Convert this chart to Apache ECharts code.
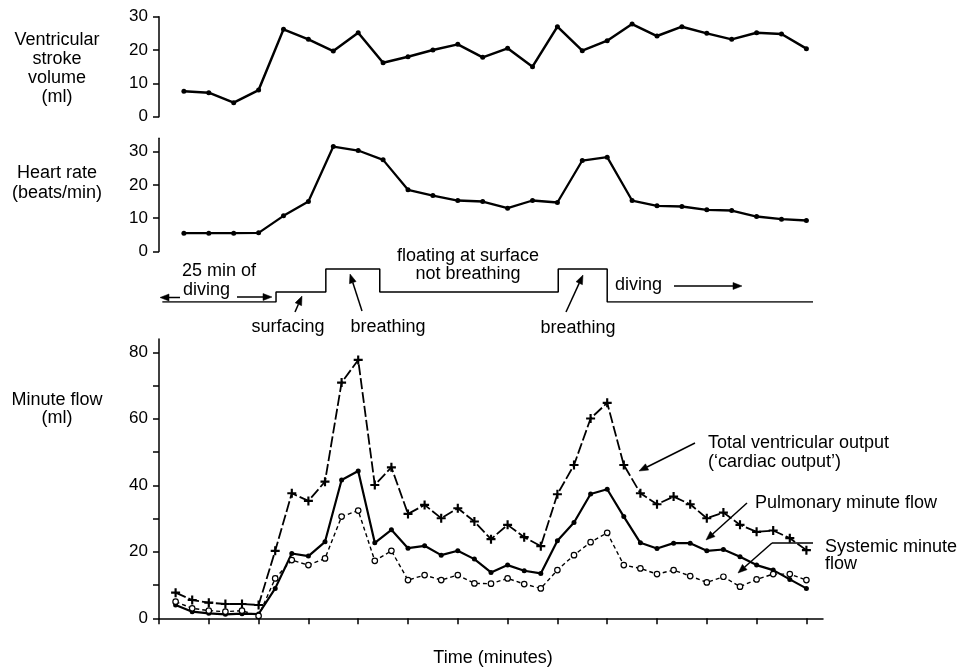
<!DOCTYPE html>
<html>
<head>
<meta charset="utf-8">
<script src="https://cdn.jsdelivr.net/npm/echarts@6/dist/echarts.min.js"></script>
<style>
html,body{margin:0;padding:0;background:#fff;}
#chart{width:962px;height:669px;}
</style>
</head>
<body>
<div id="chart"></div>
<script>
// ---- data ----
var timeTop = [1.5,3,4.5,6,7.5,9,10.5,12,13.5,15,16.5,18,19.5,21,22.5,24,25.5,27,28.5,30,31.5,33,34.5,36,37.5,39];
var strokeVolume = [7.6,7.2,4.2,8.0,26.2,23.2,19.7,25.2,16.2,18.0,20.0,21.7,17.8,20.5,15.0,27.0,19.8,22.8,27.8,24.2,27.0,25.0,23.2,25.2,24.8,20.4];
var heartRate = [5.5,5.5,5.5,5.6,10.7,15.0,31.5,30.3,27.5,18.5,16.8,15.3,15.0,13.0,15.3,14.7,27.3,28.3,15.3,13.7,13.5,12.5,12.3,10.5,9.7,9.3];

var timeFlow = [1,2,3,4,5,6,7,8,9,10,11,12,13,14,15,16,17,18,19,20,21,22,23,24,25,26,27,28,29,30,31,32,33,34,35,36,37,38,39];
var totalOutput = [7.7,5.5,4.7,4.3,4.3,4.0,20.3,37.6,35.3,41.1,70.9,77.7,40.1,45.4,31.4,34.1,30.1,33.1,29.1,23.8,28.1,24.4,21.7,37.3,46.1,60.1,64.8,46.1,37.6,34.3,36.6,34.3,30.1,31.8,28.1,26.0,26.4,24.1,20.5];
var pulmonaryFlow = [4.0,2.0,1.5,1.2,1.4,1.3,9.0,19.5,18.7,23.0,41.6,44.3,22.7,26.6,21.1,21.8,19.0,20.3,17.8,13.8,16.0,14.3,13.5,23.3,28.8,37.4,38.8,30.6,22.7,21.0,22.6,22.6,20.3,20.7,18.5,16.0,14.5,11.7,9.0];
var systemicFlow = [5.0,3.0,2.3,2.0,2.3,0.7,12.0,17.5,16.0,18.0,30.6,32.4,17.3,20.3,11.5,13.0,11.5,13.0,10.5,10.4,12.0,10.3,9.0,14.5,19.0,22.9,25.7,16.0,15.0,13.3,14.5,12.7,10.8,12.5,9.5,11.7,13.3,13.3,11.5];

// behaviour state trace (diving = 0, floating/surfacing = 10, breathing = 33)
var stateTimes = [0.2,7.05,10.05,13.3,24.05,27.0,39.4];
var stateLevels = [0,10,33,10,33,0,0];

var xTickValues = [0,3,6,9,12,15,18,21,24,27,30,33,36,39];
var svTicks = [0,10,20,30];
var hrTicks = [0,10,20,30];
var flowTicks = [0,10,20,30,40,50,60,70,80];
var flowLabels = [0,20,40,60,80];

function zip(a,b){ var r=[]; for(var i=0;i<a.length;i++) r.push([a[i],b[i]]); return r; }

// ---- styling helpers ----
var FF = '"Liberation Sans", Arial, Helvetica, sans-serif';
var FONT = '18px ' + FF;
function txt(x,y,s,align){
  return {type:'text', x:x, y:y, silent:true,
    style:{text:s, font:FONT, fill:'#000', textAlign:align||'left', textVerticalAlign:'middle', align:align||'left', verticalAlign:'middle'}};
}
function seg(x1,y1,x2,y2,w){
  return {type:'line', silent:true, shape:{x1:x1,y1:y1,x2:x2,y2:y2}, style:{stroke:'#000', lineWidth:w||1.5}};
}
function arrow(x1,y1,x2,y2){
  var a = Math.atan2(y2-y1, x2-x1), L = 9, W = 3.5;
  var bx = x2 - L*Math.cos(a), by = y2 - L*Math.sin(a);
  var px = -Math.sin(a)*W, py = Math.cos(a)*W;
  return [seg(x1,y1,bx,by,1.5),
    {type:'polygon', silent:true, shape:{points:[[x2,y2],[bx+px,by+py],[bx-px,by-py]]}, style:{fill:'#000', stroke:'#000', lineWidth:0.5}}];
}

var graphics = [];
function add(g){ if (Array.isArray(g)) graphics = graphics.concat(g); else graphics.push(g); }
// left axis titles
add(txt(57,40,'Ventricular','center')); add(txt(57,59,'stroke','center'));
add(txt(57,78,'volume','center')); add(txt(57,97,'(ml)','center'));
add(txt(57,173,'Heart rate','center')); add(txt(57,193,'(beats/min)','center'));
add(txt(57,400,'Minute flow','center')); add(txt(57,418,'(ml)','center'));
// middle annotations
add(txt(182,271,'25 min of','left')); add(txt(183,290,'diving','left'));
add(arrow(180,297.5,160,297.5)); add(arrow(237,297,272,297));
add(txt(468,256,'floating at surface','center')); add(txt(468,274,'not breathing','center'));
add(txt(288,327,'surfacing','center')); add(arrow(295,312,302,296));
add(txt(388,327,'breathing','center')); add(arrow(362,311,350,274));
add(txt(578,328,'breathing','center')); add(arrow(566,312,583,275));
add(txt(615,285,'diving','left')); add(arrow(674,286,742,286));
// bottom annotations
add(txt(708,443,'Total ventricular output','left'));
add(txt(708,462,'(\u2018cardiac output\u2019)','left'));
add(arrow(695,443,639,471));
add(txt(755,503,'Pulmonary minute flow','left'));
add(arrow(747,503,706,540));
add(txt(825,547,'Systemic minute','left')); add(txt(825,564,'flow','left'));
add(seg(813,543,772,543,1.5)); add(arrow(772,543,738,573));
add(txt(493,658,'Time (minutes)','center'));

var axisLineStyle = {color:'#000', width:1.5};
function yAx(grid,max,ticks,labels){
  return {gridIndex:grid, type:'value', min:0, max:max, interval:10,
    axisLine:{show:true, lineStyle:axisLineStyle},
    axisTick:{show:true, length:6, lineStyle:axisLineStyle, customValues:ticks},
    axisLabel:{show:true, margin:11, color:'#000', fontSize:17, fontFamily:FF, customValues:labels},
    splitLine:{show:false}};
}
var G = {left:159, width:664};
var plusPath = 'path://M3.8,0H6.2V3.8H10V6.2H6.2V10H3.8V6.2H0V3.8H3.8Z';

var option = {
  animation:false,
  backgroundColor:'#fff',
  grid:[
    {left:G.left, width:G.width, top:16.7, height:100},
    {left:G.left, width:G.width, top:138.2, height:113.3},
    {left:G.left, width:G.width, top:339, height:279.3},
    {left:G.left, width:G.width, top:258, height:44}
  ],
  xAxis:[
    {gridIndex:0, type:'value', min:0, max:40, show:false},
    {gridIndex:1, type:'value', min:0, max:40, show:false},
    {gridIndex:2, type:'value', min:0, max:40, interval:3,
      axisLine:{show:true, lineStyle:axisLineStyle},
      axisTick:{show:true, length:6, lineStyle:axisLineStyle, customValues:xTickValues},
      axisLabel:{show:false}, splitLine:{show:false}},
    {gridIndex:3, type:'value', min:0, max:40, show:false}
  ],
  yAxis:[
    yAx(0,30,svTicks,svTicks),
    yAx(1,34,hrTicks,hrTicks),
    yAx(2,84,flowTicks,flowLabels),
    {gridIndex:3, type:'value', min:0, max:44, show:false}
  ],
  series:[
    {name:'Ventricular stroke volume', type:'line', xAxisIndex:0, yAxisIndex:0, data:zip(timeTop,strokeVolume),
      symbol:'circle', symbolSize:5, itemStyle:{color:'#000'}, lineStyle:{color:'#000', width:2.5}, silent:true},
    {name:'Heart rate', type:'line', xAxisIndex:1, yAxisIndex:1, data:zip(timeTop,heartRate),
      symbol:'circle', symbolSize:5, itemStyle:{color:'#000'}, lineStyle:{color:'#000', width:2.3}, silent:true},
    {name:'Total ventricular output', type:'line', xAxisIndex:2, yAxisIndex:2, data:zip(timeFlow,totalOutput),
      symbol:plusPath, symbolSize:9, itemStyle:{color:'#000'}, lineStyle:{color:'#000', width:1.8, type:[11,3]}, silent:true, z:3},
    {name:'Pulmonary minute flow', type:'line', xAxisIndex:2, yAxisIndex:2, data:zip(timeFlow,pulmonaryFlow),
      symbol:'circle', symbolSize:5, itemStyle:{color:'#000'}, lineStyle:{color:'#000', width:2.2}, silent:true, z:2},
    {name:'Systemic minute flow', type:'line', xAxisIndex:2, yAxisIndex:2, data:zip(timeFlow,systemicFlow),
      symbol:'circle', symbolSize:5.5, itemStyle:{color:'#fff', borderColor:'#000', borderWidth:1.2},
      lineStyle:{color:'#000', width:1.4, type:[4,3]}, silent:true, z:4},
    {name:'State', type:'line', xAxisIndex:3, yAxisIndex:3, data:zip(stateTimes,stateLevels), step:'end',
      symbol:'none', lineStyle:{color:'#000', width:1.5}, silent:true}
  ],
  graphic:graphics
};
var chart = echarts.init(document.getElementById('chart'), null, {renderer:'canvas'});
chart.setOption(option);
</script>
</body>
</html>
